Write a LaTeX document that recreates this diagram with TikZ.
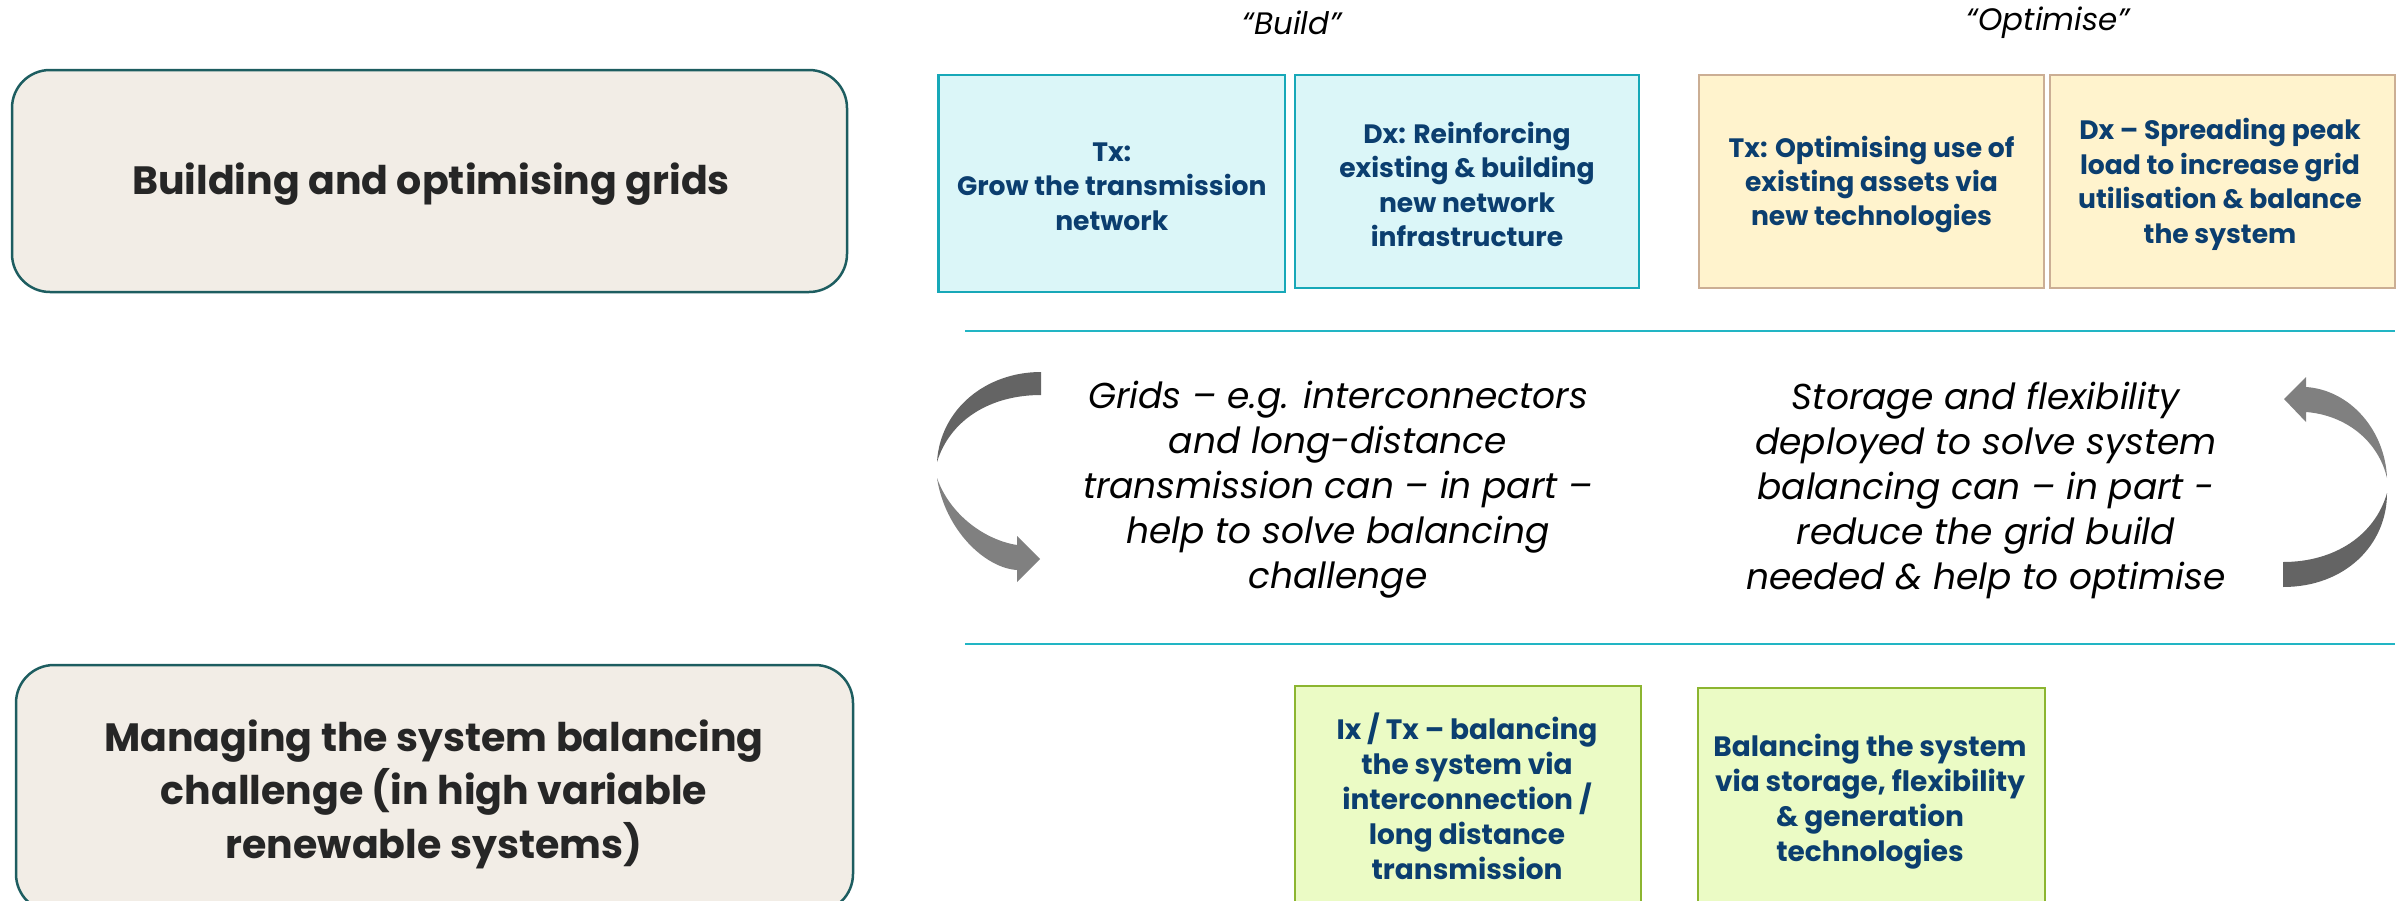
\documentclass[tikz,border=0pt]{standalone}
\usepackage{fontspec}
\setmainfont{Poppins}
\definecolor{titleline}{HTML}{1D5D60}
\definecolor{titlefill}{HTML}{F2EDE6}
\definecolor{titletext}{HTML}{262626}
\definecolor{navy}{HTML}{0B3E6F}
\definecolor{buildline}{HTML}{17A8B8}
\definecolor{buildfill}{HTML}{DBF6F8}
\definecolor{optline}{HTML}{CBAE94}
\definecolor{optfill}{HTML}{FFF3CD}
\definecolor{balline}{HTML}{8CB530}
\definecolor{balfill}{HTML}{EBFBC5}
\definecolor{rulecol}{HTML}{22B5C4}
\definecolor{arrowdark}{HTML}{646464}
\definecolor{arrowlight}{HTML}{808080}
\begin{document}
\begin{tikzpicture}[x=1pt,y=-1pt,
  titlebox/.style={draw=titleline, fill=titlefill, line width=2.5pt, rounded corners=38pt,
    text=titletext, align=center, inner sep=0pt},
  titletxt/.style={text=titletext, align=center, inner sep=0pt,
    font=\bfseries\fontsize{39.5}{53.5}\selectfont},
  cardbox/.style={line width=2.5pt, text=navy, align=center, inner sep=0pt,
    font=\bfseries\fontsize{26.6}{34.5}\selectfont},
  buildcard/.style={cardbox, draw=buildline, fill=buildfill},
  optcard/.style={cardbox, draw=optline, fill=optfill},
  balcard/.style={cardbox, draw=balline, fill=balfill, font=\bfseries\fontsize{28}{35}\selectfont},
  note/.style={align=center, inner sep=0pt, text=black, font=\itshape\fontsize{36}{45}\selectfont},
  heading/.style={inner sep=0pt, text=black, font=\itshape\fontsize{31}{36}\selectfont},
  rule/.style={draw=rulecol, line width=2pt}
]
\useasboundingbox (0,0) rectangle (2402,900);
\clip (0,0) rectangle (2402,900);

% row titles
\node[titlebox, minimum width=835pt, minimum height=222pt] (grids) at (429.5,181) {};
\node[titletxt] (gridstxt) at (431,184) {Building and optimising grids};
\node[titlebox, minimum width=837pt, minimum height=247pt] (balancing) at (434.5,788.5) {};
\node[titletxt] (balancingtxt) at (434,794)
  {Managing the system balancing\\challenge (in high variable\\renewable systems)};

% column headings
\node[heading] (build) at (1292,23) {“Build”};
\node[heading] (optimise) at (2048,23) {“Optimise”};

% build and optimise cards
\node[buildcard, minimum width=346.5pt, minimum height=217pt] (tx) at (1111.75,183.5) {};
\node[cardbox] (txtxt) at (1111.75,186.5) {Tx:\\Grow the transmission\\network};
\node[buildcard, minimum width=344pt, minimum height=213pt] (dx) at (1467,181.5) {};
\node[cardbox] (dxtxt) at (1467,184.5)
  {Dx: Reinforcing\\existing \& building\\new network\\infrastructure};
\node[optcard, minimum width=345pt, minimum height=213pt] (txopt) at (1871.5,181.5) {};
\node[cardbox] (txopttxt) at (1871.5,184.5)
  {Tx: Optimising use of\\existing assets via\\new technologies};
\node[optcard, minimum width=345pt, minimum height=213pt] (dxopt) at (2222.5,181.5) {};
\node[cardbox] (dxopttxt) at (2220,184.5)
  {Dx – Spreading peak\\load to increase grid\\utilisation \& balance\\the system};

% separating rules
\coordinate (r1a) at (965,331);
\coordinate (r1b) at (2395,331);
\coordinate (r2a) at (965,644);
\coordinate (r2b) at (2395,644);
\draw[rule] (r1a) -- (r1b);
\draw[rule] (r2a) -- (r2b);

% interaction notes
\node[note] (gridnote) at (1338,490)
  {Grids – e.g. interconnectors\\and long-distance\\transmission can – in part –\\help to solve balancing\\challenge};
\node[note] (storenote) at (1986,490)
  {Storage and flexibility\\deployed to solve system\\balancing can – in part -\\reduce the grid build\\needed \& help to optimise};

% curved arrow on the left: back half, then front half with head
\fill[arrowdark] (1041,372) .. controls (985,372) and (940,410) .. (937,462)
  .. controls (950,420) and (990,395) .. (1041,395) -- cycle;
\fill[arrowlight] (937,478) .. controls (945,530) and (985,568) .. (1017,570)
  -- (1017,582) -- (1040,559) -- (1017,536) -- (1017,545)
  .. controls (985,540) and (950,515) .. (937,478) -- cycle;

% curved arrow on the right
\fill[arrowdark] (2283,587) .. controls (2345,587) and (2387,545) .. (2387,493)
  .. controls (2375,535) and (2335,562) .. (2283,562) -- cycle;
\fill[arrowlight] (2387,478) .. controls (2385,430) and (2350,390) .. (2306,387)
  -- (2306,377) -- (2284,399) -- (2306,422) -- (2306,412)
  .. controls (2345,415) and (2378,440) .. (2387,478) -- cycle;

% balancing cards
\node[balcard, minimum width=346pt, minimum height=222pt] (ix) at (1468,797) {};
\node[balcard, draw=none, fill=none] (ixtxt) at (1467,796)
  {Ix / Tx – balancing\\the system via\\interconnection /\\long distance\\transmission};
\node[balcard, minimum width=347pt, minimum height=222pt] (storage) at (1871.5,799) {};
\node[balcard, draw=none, fill=none] (storagetxt) at (1870,802)
  {Balancing the system\\via storage, flexibility\\\& generation\\technologies};
\end{tikzpicture}
\end{document}
